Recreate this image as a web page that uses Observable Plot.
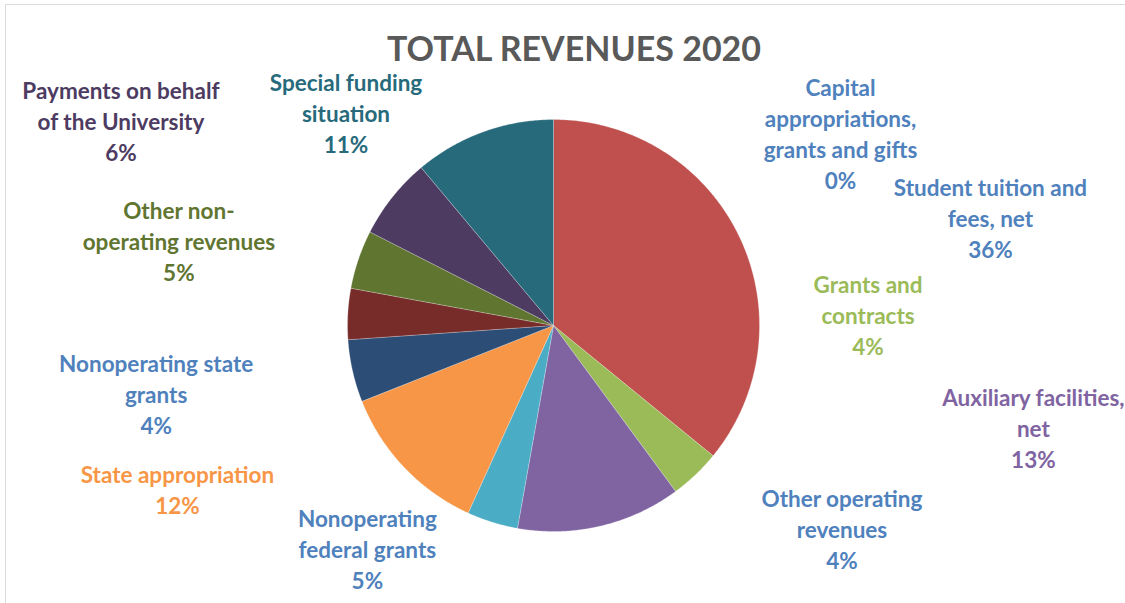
<!DOCTYPE html>
<html>
<head>
<meta charset="utf-8">
<script src="https://cdn.jsdelivr.net/npm/d3@7"></script>
<script src="https://cdn.jsdelivr.net/npm/@observablehq/plot@0.6"></script>
<style>
  html, body { margin: 0; padding: 0; background: #ffffff; }
  #wrap { position: relative; width: 1125px; height: 603px; overflow: hidden; background: #fff; }
  #frame { position: absolute; left: 5px; top: 4px; width: 1200px; height: 700px;
           border-top: 1.5px solid #dcdcdc; border-left: 1.5px solid #dcdcdc; pointer-events: none; }
  #title { position: absolute; left: 0; width: 1148px; top: 31px; text-align: center;
           font-family: Lato, "Open Sans", sans-serif; font-weight: 700; font-size: 34px;
           color: #595959; line-height: 1; z-index: 2; }
  #chart { position: absolute; left: 0; top: 0; }
  g[aria-label="pie-shadow"] { filter: blur(2.5px); }
</style>
</head>
<body>
<div id="wrap">
  <div id="frame"></div>
  <div id="chart"></div>
  <div id="title">TOTAL REVENUES 2020</div>
</div>
<script>
// ---- data ----
const categoryLabels = [
  "Capital\nappropriations,\ngrants and gifts",
  "Student tuition and\nfees, net",
  "Grants and\ncontracts",
  "Auxiliary facilities,\nnet",
  "Other operating\nrevenues",
  "State appropriation",
  "Nonoperating\nfederal grants",
  "Nonoperating state\ngrants",
  "Other non-\noperating revenues",
  "Payments on behalf\nof the University",
  "Special funding\nsituation"
];
const shares = [0, 35.9, 4.0, 12.9, 4.0, 12.2, 4.9, 4.0, 4.6, 6.4, 11.1];

// ---- styles ----
const sliceColors = ["#4F81BD", "#C0504D", "#9BBB59", "#8064A2", "#4BACC6", "#F79646",
                     "#2C4D75", "#772C2A", "#5F7530", "#4D3B62", "#276A7C"];
const labelColors = ["#4F81BD", "#4F81BD", "#9BBB59", "#8064A2", "#4F81BD", "#F79646",
                     "#4F81BD", "#4F81BD", "#5F7530", "#4D3B62", "#276A7C"];
// label nudges (pixels) from a point at 1.3 radii along each slice's mid-angle
const labelNudges = [[287, 75], [195, 6], [130, -205], [419, -159], [368, -53], [-182, -21],
                     [75, 163], [-130, 83], [-121, 1], [-223, -39], [-116, 38]];

// ---- layout ----
const W = 1125, H = 603;
const CX = 553, CY = 325, R = 206;
const LABEL_R = 1.3;
const FONT = 22.5;

const categories = categoryLabels.map(s => s.replace(/-\n/g, "-").replace(/\n/g, " "));
const data = categories.map((name, i) => ({name, value: shares[i], i}));

const arcs = d3.pie().sort(null).value(d => d.value).startAngle(0).endAngle(2 * Math.PI)(data);

// slice polygons in unit (radius = 1) coordinates, y up
function slicePoly(a0, a1, scale = 1) {
  const pts = [{x: 0, y: 0}];
  const n = Math.max(2, Math.ceil((a1 - a0) / (Math.PI / 360)));
  for (let k = 0; k <= n; k++) {
    const t = a0 + (a1 - a0) * k / n;
    pts.push({x: scale * Math.sin(t), y: scale * Math.cos(t)});
  }
  pts.push({x: 0, y: 0});
  return pts;
}

const shadowMark = Plot.line(slicePoly(0, 2 * Math.PI, 1.0), {
  x: "x", y: "y", curve: "linear", fill: "#000000", fillOpacity: 0.35,
  stroke: "none", dy: 1, ariaLabel: "pie-shadow"
});

const sliceMarks = arcs
  .filter(a => a.endAngle - a.startAngle > 0)
  .map(a => Plot.line(slicePoly(a.startAngle, a.endAngle), {
    x: "x", y: "y", curve: "linear",
    fill: sliceColors[a.index],
    stroke: "#ffffff", strokeOpacity: 0.3, strokeWidth: 0.8
  }));

const labelMarks = arcs.map((a, i) => {
  const mid = (a.startAngle + a.endAngle) / 2;
  const pct = Math.round(a.data.value) + "%";
  const d = [{x: LABEL_R * Math.sin(mid), y: LABEL_R * Math.cos(mid), text: categoryLabels[i] + "\n" + pct}];
  return Plot.text(d, {
    x: "x", y: "y", text: "text",
    dx: labelNudges[i][0], dy: labelNudges[i][1],
    fill: labelColors[i],
    fontFamily: "Lato, 'Open Sans', sans-serif",
    fontWeight: 700, fontSize: FONT, lineHeight: 31 / FONT,
    textAnchor: "middle"
  });
});

const chart = Plot.plot({
  width: W, height: H, margin: 0,
  style: {background: "transparent", overflow: "visible"},
  x: {domain: [-CX / R, (W - CX) / R], axis: null},
  y: {domain: [-(H - CY) / R, CY / R], axis: null},
  marks: [
    shadowMark,
    ...sliceMarks,
    ...labelMarks
  ]
});
document.getElementById("chart").appendChild(chart);
</script>
</body>
</html>
